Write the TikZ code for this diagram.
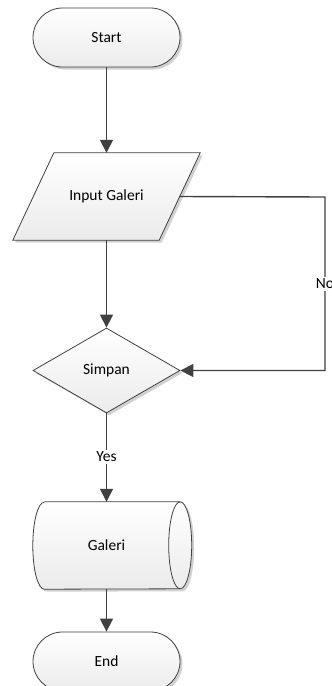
\documentclass[tikz,border=0pt]{standalone}
\usepackage{fontspec}
\setmainfont{Carlito}
\usetikzlibrary{arrows.meta,shapes.geometric,shadows,backgrounds}

\definecolor{edge}{HTML}{404040}
\definecolor{bodytop}{HTML}{FFFFFF}
\definecolor{bodybot}{HTML}{EBEBEB}

\tikzset{
  x=1pt, y=1pt,
  every node/.style={font=\fontsize{15.5}{18}\selectfont, text=black},
  softshadow/.style={drop shadow={shadow xshift=2.5pt, shadow yshift=-2.5pt, opacity=0.18, fill=black}},
  body/.style={draw=edge, line width=0.8pt, top color=bodytop, bottom color=bodybot, softshadow},
  terminal/.style={body, rectangle, rounded corners=29.5pt, minimum width=147pt, minimum height=59pt, inner sep=0pt},
  decision/.style={body, diamond, minimum width=147pt, minimum height=85pt, inner sep=0pt},
  holder/.style={rectangle, inner sep=0pt},
  flow/.style={draw=edge, line width=1.4pt, -{Triangle[length=13pt, width=13pt]}},
  flowlabel/.style={fill=white, inner sep=1.5pt}
}

\begin{document}
\begin{tikzpicture}
  \useasboundingbox (0,0) rectangle (332,-686);

  % shapes
  \node[terminal] (start) at (106.5,-37.5) {Start};
  \node[holder, minimum width=146pt, minimum height=87pt] (input) at (106.5,-196.5) {Input Galeri};
  \node[decision] (simpan) at (106.5,-370.5) {Simpan};
  \node[holder, minimum width=147pt, minimum height=87pt] (galeri) at (106.5,-545.5) {Galeri};
  \node[terminal] (end) at (106.5,-661.5) {End};

  \begin{scope}[on background layer]
    % input parallelogram
    \path[body] ([xshift=-20.5pt]input.south west) -- ([xshift=-20.5pt]input.south east)
      -- ([xshift=20.5pt]input.north east) -- ([xshift=20.5pt]input.north west) -- cycle;
    % stored data drum
    \path[body] ([xshift=11.5pt]galeri.north west) -- (galeri.north east)
      arc[start angle=90, end angle=-90, x radius=11.5pt, y radius=43.5pt]
      -- ([xshift=11.5pt]galeri.south west)
      arc[start angle=270, end angle=90, x radius=11.5pt, y radius=43.5pt];
    \draw[edge, line width=0.8pt] (galeri.north east)
      arc[start angle=90, end angle=270, x radius=11.5pt, y radius=43.5pt];
  \end{scope}

  % connectors
  \coordinate (loop) at (325,-197);
  \path[flow] (start.south) -- (input.north);
  \path[flow] (input.south) -- (simpan.north);
  \path[flow] (input.east) -- (loop) |- (simpan.east);
  \node[flowlabel] (nolabel) at (325,-284) {No};
  \path[flow] (simpan.south) -- (galeri.north);
  \node[flowlabel] (yeslabel) at (106.5,-457) {Yes};
  \path[flow] (galeri.south) -- (end.north);
\end{tikzpicture}
\end{document}
